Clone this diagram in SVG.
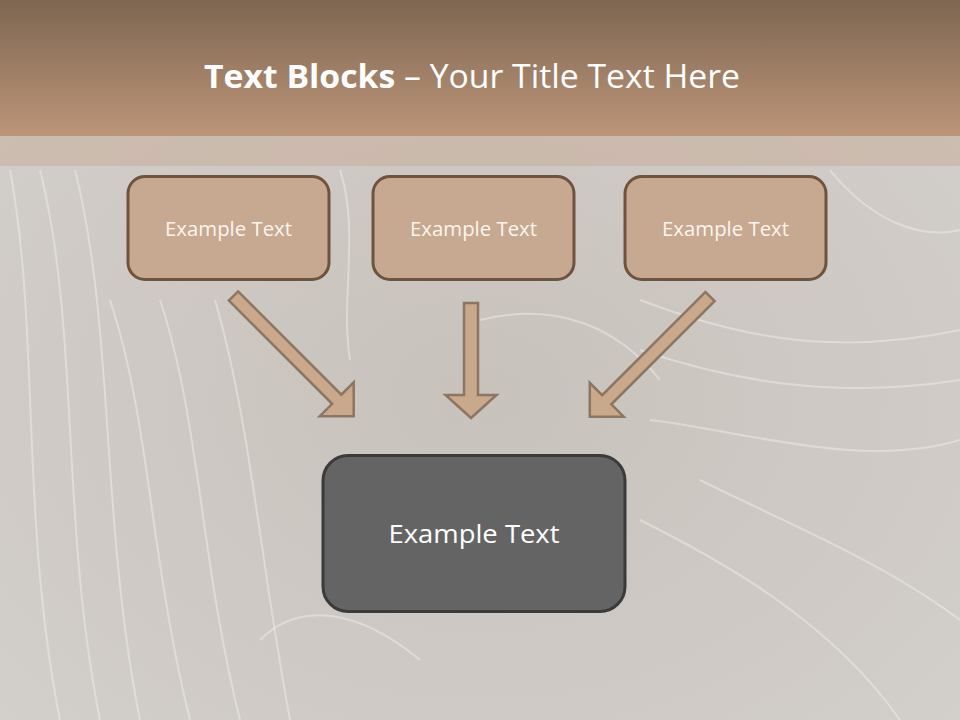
<svg xmlns="http://www.w3.org/2000/svg" width="960" height="720" viewBox="0 0 960 720">
  <defs>
    <linearGradient id="hdr" x1="0" y1="0" x2="0" y2="1">
      <stop offset="0" stop-color="#7e6651"/>
      <stop offset="1" stop-color="#bc9579"/>
    </linearGradient>
    <radialGradient id="bgGlow" cx="0.5" cy="0.55" r="0.7">
      <stop offset="0" stop-color="#c8c2bc"/>
      <stop offset="1" stop-color="#d3cfcb"/>
    </radialGradient>
    <path id="arrowShape" d="M0,-6.5 L146,-6.5 L146,-24 L170,0 L146,24 L146,6.5 L0,6.5 Z"/>
  </defs>
  <style>
    .swirl { fill: none; stroke: #f4f1ee; stroke-width: 2; opacity: 0.45; }
    .small { fill: #c7a891; stroke: #6e543e; stroke-width: 3; }
    .smallTxt { font-family: "Open Sans", "Liberation Sans", sans-serif; font-size: 20px; fill: #fbf5ee; text-anchor: middle; }
    .big { fill: #646464; stroke: #3b3b3b; stroke-width: 3; }
    .bigTxt { font-family: "Open Sans", "Liberation Sans", sans-serif; font-size: 26px; fill: #ffffff; text-anchor: middle; }
    .arrow { fill: #c9a88b; stroke: #8d7661; stroke-width: 2.5; stroke-linejoin: miter; }
    .title { font-family: "Open Sans", "Liberation Sans", sans-serif; font-size: 33px; fill: #ffffff; }
  </style>

  <!-- background -->
  <rect x="0" y="0" width="960" height="720" fill="url(#bgGlow)"/>
  <g id="texture">
    <path class="swirl" d="M10,170 C40,330 20,520 60,720"/>
    <path class="swirl" d="M40,170 C80,330 60,520 100,720"/>
    <path class="swirl" d="M75,170 C115,330 100,520 140,720"/>
    <path class="swirl" d="M110,300 C150,420 150,560 190,720"/>
    <path class="swirl" d="M160,300 C200,420 200,560 240,720"/>
    <path class="swirl" d="M215,300 C250,420 260,560 290,720"/>
    <path class="swirl" d="M260,640 C300,600 360,610 420,660"/>
    <path class="swirl" d="M640,300 C720,330 820,360 960,330"/>
    <path class="swirl" d="M640,350 C730,380 830,400 960,380"/>
    <path class="swirl" d="M650,420 C740,430 860,470 960,440"/>
    <path class="swirl" d="M640,520 C720,560 830,620 900,720"/>
    <path class="swirl" d="M700,480 C780,520 880,560 960,620"/>
    <path class="swirl" d="M830,170 C870,220 920,240 960,230"/>
    <path class="swirl" d="M480,320 C560,300 620,330 660,380"/>
    <path class="swirl" d="M340,170 C360,230 340,300 350,360"/>
  </g>

  <!-- header -->
  <rect x="0" y="0" width="960" height="136" fill="url(#hdr)"/>
  <rect x="0" y="136" width="960" height="30" fill="#c8ab95" opacity="0.5"/>
  <text class="title" x="472" y="88" text-anchor="middle" textLength="536" lengthAdjust="spacingAndGlyphs"><tspan font-weight="bold">Text Blocks</tspan> – Your Title Text Here</text>

  <!-- connectors -->
  <g id="connectors">
    <use href="#arrowShape" class="arrow" transform="translate(233.5,296) rotate(45)"/>
    <path class="arrow" d="M464,303 L478,303 L478,395 L496.5,395 L471,418 L445.5,395 L464,395 Z"/>
    <use href="#arrowShape" class="arrow" transform="translate(710,296.5) rotate(135)"/>
  </g>

  <!-- nodes -->
  <g id="node1">
    <rect class="small" x="128" y="176.5" width="201" height="103" rx="17"/>
    <text class="smallTxt" x="228.5" y="235.5" textLength="127" lengthAdjust="spacingAndGlyphs">Example Text</text>
  </g>
  <g id="node2">
    <rect class="small" x="373" y="176.5" width="201" height="103" rx="17"/>
    <text class="smallTxt" x="473.5" y="235.5" textLength="127" lengthAdjust="spacingAndGlyphs">Example Text</text>
  </g>
  <g id="node3">
    <rect class="small" x="625" y="176.5" width="201" height="103" rx="17"/>
    <text class="smallTxt" x="725.5" y="235.5" textLength="127" lengthAdjust="spacingAndGlyphs">Example Text</text>
  </g>
  <g id="node4">
    <rect class="big" x="323" y="455.5" width="302" height="156" rx="25"/>
    <text class="bigTxt" x="474" y="543" textLength="171" lengthAdjust="spacingAndGlyphs">Example Text</text>
  </g>
</svg>
